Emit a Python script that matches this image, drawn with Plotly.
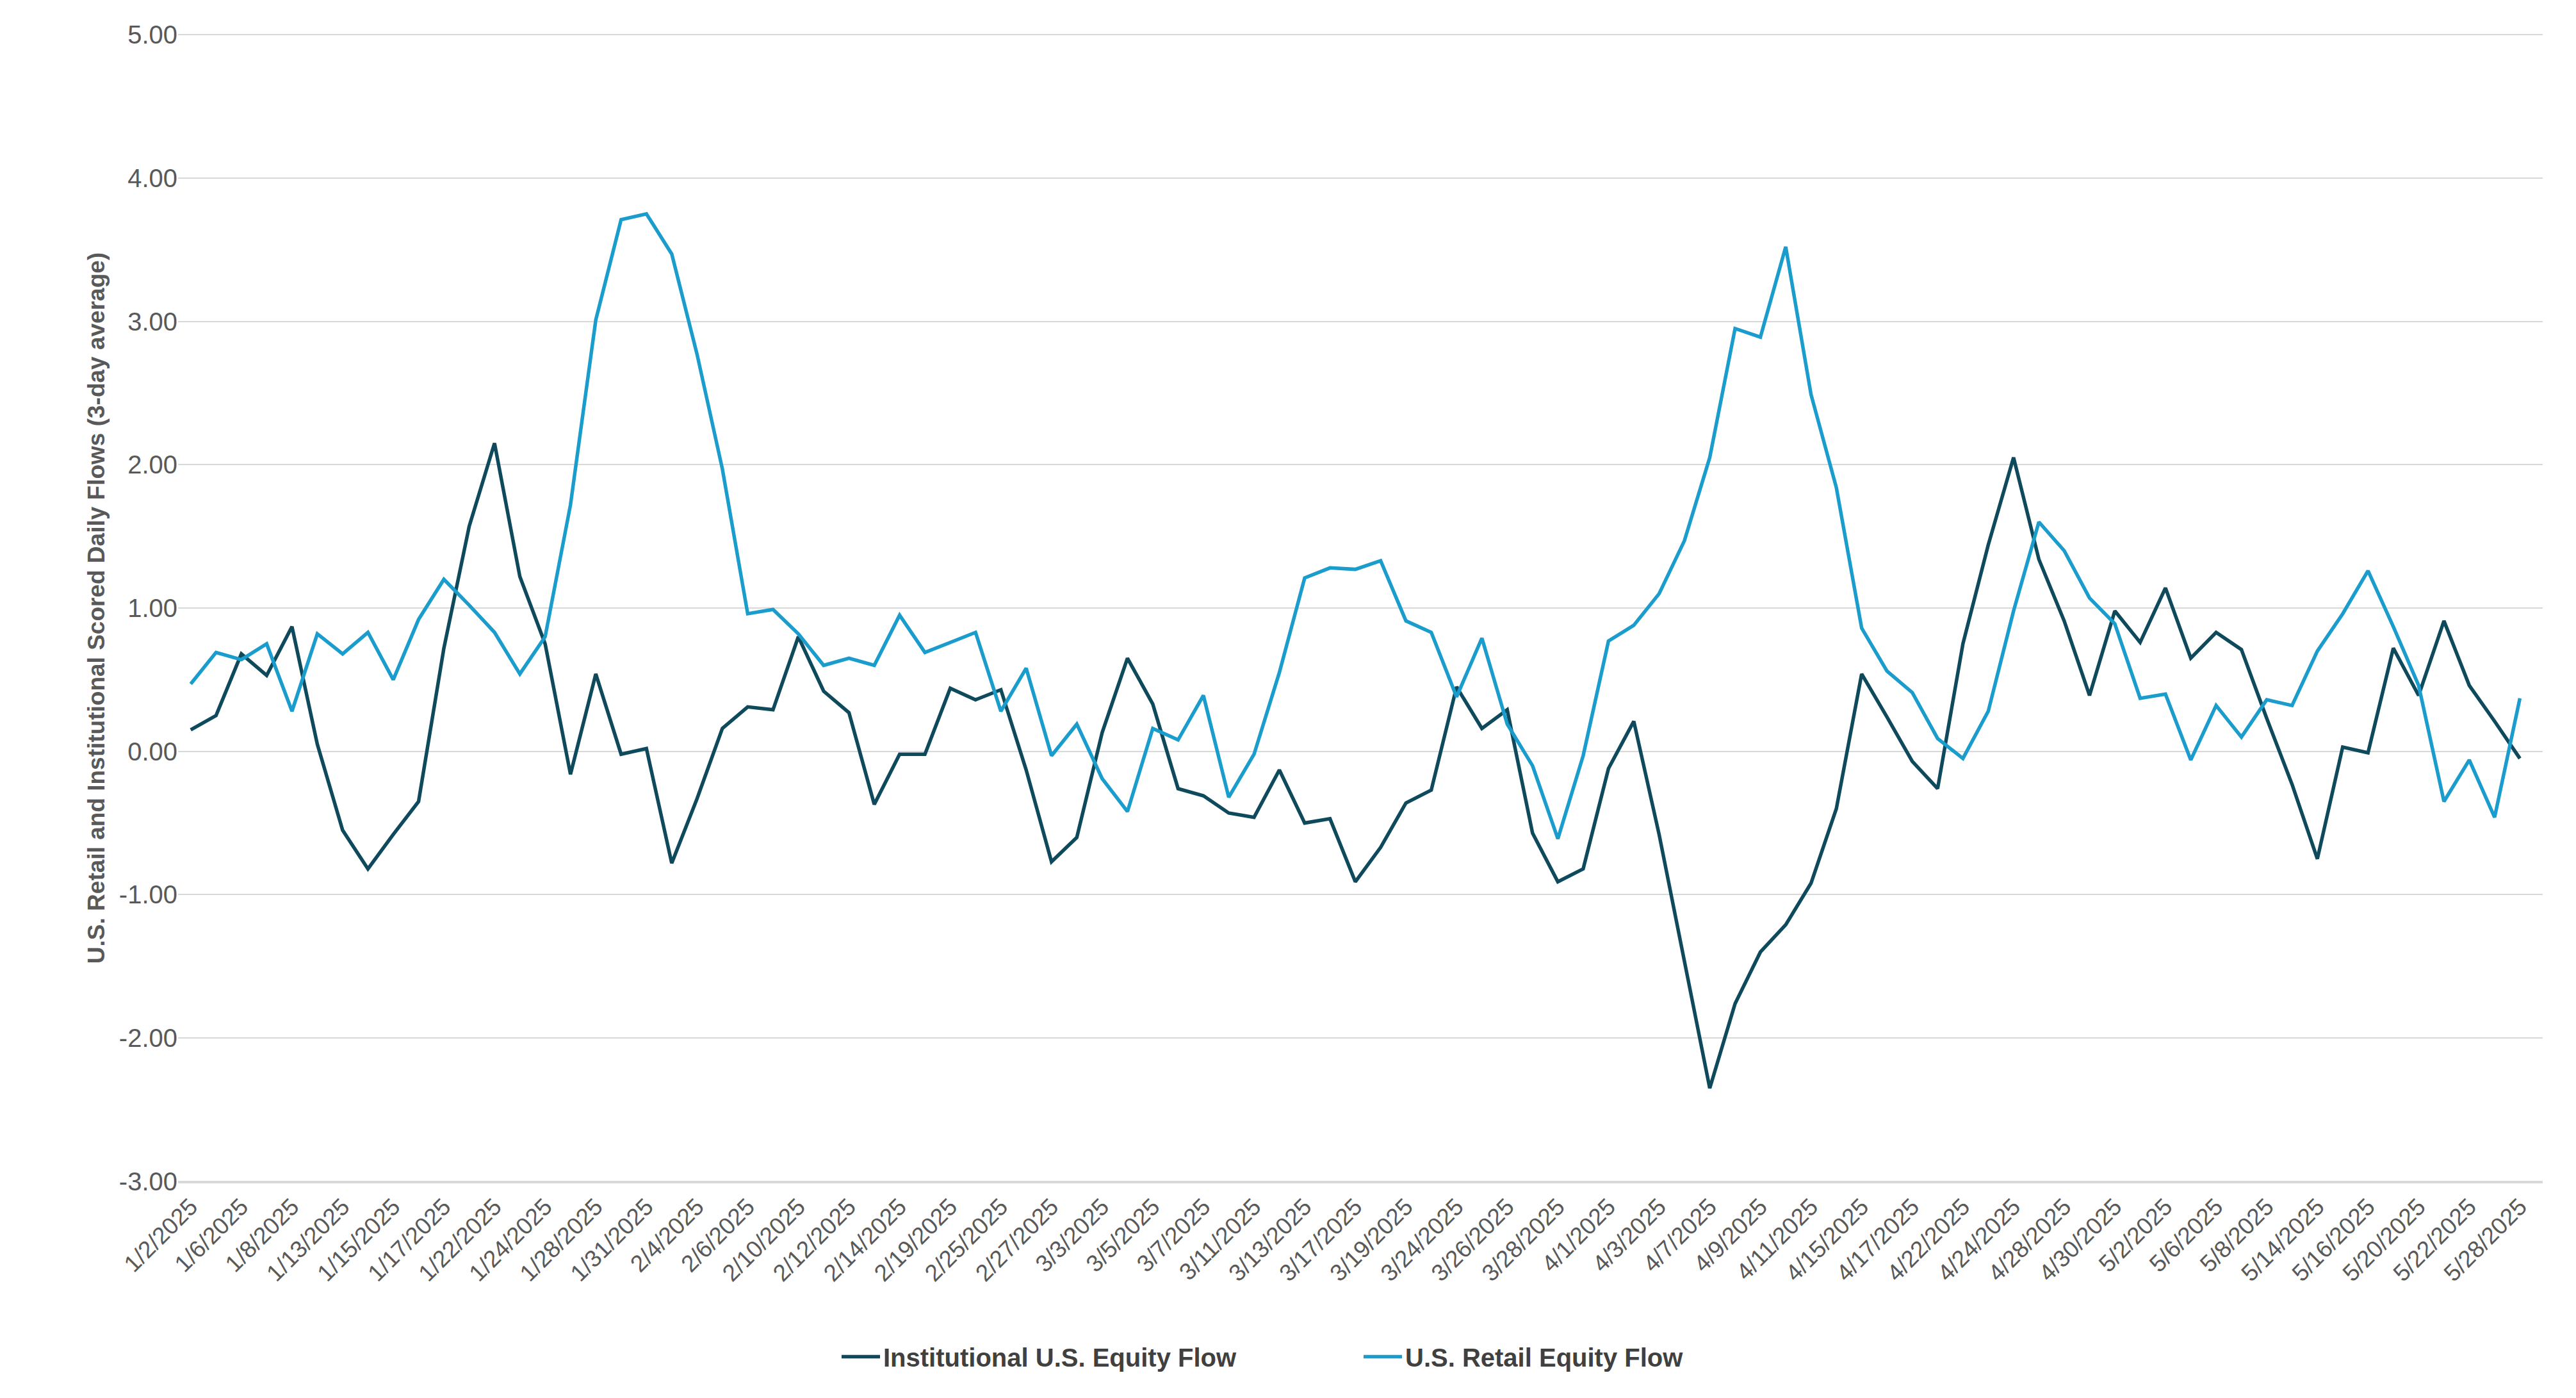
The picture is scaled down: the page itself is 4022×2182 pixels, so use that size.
import plotly.graph_objects as go

# Trading dates (category axis); every other one is labelled.
dates = ['1/2/2025', '1/3/2025', '1/6/2025', '1/7/2025', '1/8/2025', '1/10/2025',
         '1/13/2025', '1/14/2025', '1/15/2025', '1/16/2025', '1/17/2025', '1/21/2025',
         '1/22/2025', '1/23/2025', '1/24/2025', '1/27/2025', '1/28/2025', '1/30/2025',
         '1/31/2025', '2/3/2025', '2/4/2025', '2/5/2025', '2/6/2025', '2/7/2025',
         '2/10/2025', '2/11/2025', '2/12/2025', '2/13/2025', '2/14/2025', '2/18/2025',
         '2/19/2025', '2/24/2025', '2/25/2025', '2/26/2025', '2/27/2025', '2/28/2025',
         '3/3/2025', '3/4/2025', '3/5/2025', '3/6/2025', '3/7/2025', '3/10/2025',
         '3/11/2025', '3/12/2025', '3/13/2025', '3/14/2025', '3/17/2025', '3/18/2025',
         '3/19/2025', '3/21/2025', '3/24/2025', '3/25/2025', '3/26/2025', '3/27/2025',
         '3/28/2025', '3/31/2025', '4/1/2025', '4/2/2025', '4/3/2025', '4/4/2025',
         '4/7/2025', '4/8/2025', '4/9/2025', '4/10/2025', '4/11/2025', '4/14/2025',
         '4/15/2025', '4/16/2025', '4/17/2025', '4/21/2025', '4/22/2025', '4/23/2025',
         '4/24/2025', '4/25/2025', '4/28/2025', '4/29/2025', '4/30/2025', '5/1/2025',
         '5/2/2025', '5/5/2025', '5/6/2025', '5/7/2025', '5/8/2025', '5/13/2025',
         '5/14/2025', '5/15/2025', '5/16/2025', '5/19/2025', '5/20/2025', '5/21/2025',
         '5/22/2025', '5/27/2025', '5/28/2025']

institutional = [0.15, 0.25, 0.68, 0.53, 0.87, 0.05, -0.55, -0.82, -0.58, -0.35,
                 0.72, 1.57, 2.15, 1.22, 0.75, -0.16, 0.54, -0.02, 0.02, -0.78,
                 -0.33, 0.16, 0.31, 0.29, 0.80, 0.42, 0.27, -0.37, -0.02, -0.02,
                 0.44, 0.36, 0.43, -0.13, -0.77, -0.60, 0.13, 0.65, 0.33, -0.26,
                 -0.31, -0.43, -0.46, -0.13, -0.50, -0.47, -0.91, -0.67, -0.36, -0.27,
                 0.45, 0.16, 0.29, -0.57, -0.91, -0.82, -0.12, 0.21, -0.58, -1.45,
                 -2.35, -1.76, -1.40, -1.21, -0.92, -0.40, 0.54, 0.24, -0.07, -0.26,
                 0.75, 1.44, 2.05, 1.34, 0.91, 0.39, 0.98, 0.76, 1.14, 0.65,
                 0.83, 0.71, 0.23, -0.23, -0.75, 0.03, -0.01, 0.72, 0.39, 0.91,
                 0.46, 0.21, -0.05]

retail = [0.47, 0.69, 0.64, 0.75, 0.28, 0.82, 0.68, 0.83, 0.50, 0.92,
          1.20, 1.02, 0.83, 0.54, 0.80, 1.72, 3.01, 3.71, 3.75, 3.47,
          2.77, 1.97, 0.96, 0.99, 0.82, 0.60, 0.65, 0.60, 0.95, 0.69,
          0.76, 0.83, 0.28, 0.58, -0.03, 0.19, -0.19, -0.42, 0.16, 0.08,
          0.39, -0.32, -0.02, 0.55, 1.21, 1.28, 1.27, 1.33, 0.91, 0.83,
          0.38, 0.79, 0.19, -0.10, -0.61, -0.03, 0.77, 0.88, 1.10, 1.47,
          2.05, 2.95, 2.89, 3.52, 2.49, 1.84, 0.86, 0.56, 0.41, 0.09,
          -0.05, 0.28, 0.98, 1.60, 1.40, 1.07, 0.89, 0.37, 0.40, -0.06,
          0.32, 0.10, 0.36, 0.32, 0.70, 0.96, 1.26, 0.87, 0.46, -0.35,
          -0.06, -0.46, 0.37]

tick_dates = dates[::2]
y_ticks = [-3, -2, -1, 0, 1, 2, 3, 4, 5]
y_labels = ['-3.00', '-2.00', '-1.00', '0.00', '1.00', '2.00', '3.00', '4.00', '5.00']

fig = go.Figure()
fig.add_trace(go.Scatter(x=dates, y=institutional, mode='lines',
                         name='<b>Institutional U.S. Equity Flow</b>',
                         line=dict(color='#0e4a5c', width=5.5)))
fig.add_trace(go.Scatter(x=dates, y=retail, mode='lines',
                         name='<b>U.S. Retail Equity Flow</b>',
                         line=dict(color='#1a9ccc', width=5.5)))

fig.update_layout(
    width=4022, height=2182,
    margin=dict(l=270, r=60, t=45, b=345),
    plot_bgcolor='white', paper_bgcolor='white',
    font=dict(family='Liberation Sans', size=36, color='#595959'),
    showlegend=True,
    legend=dict(orientation='h', x=0.5, xanchor='center', y=-0.152,
                yanchor='middle', font=dict(size=40, color='#404040',
                                            family='Liberation Sans'),
                itemwidth=60, entrywidth=740),
    xaxis=dict(type='category', tickmode='array', tickvals=tick_dates,
               ticktext=tick_dates, tickangle=-45, showgrid=False,
               showline=True, linecolor='#d9d9d9', linewidth=2,
               range=[-0.5, len(dates) - 0.1],
               tickfont=dict(size=37, color='#595959'), ticks=''),
    yaxis=dict(range=[-3.005, 5.005], tickmode='array', tickvals=y_ticks,
               ticktext=y_labels, showgrid=True,
               gridcolor='#d9d9d9', gridwidth=2, zeroline=False,
               tickfont=dict(size=40, color='#595959'), ticksuffix='      ',
               title=dict(text='<b>U.S. Retail and Institutional Scored Daily Flows (3-day average)</b>',
                          font=dict(size=37, color='#595959'), standoff=10)),
)

fig.write_html('out.html')
